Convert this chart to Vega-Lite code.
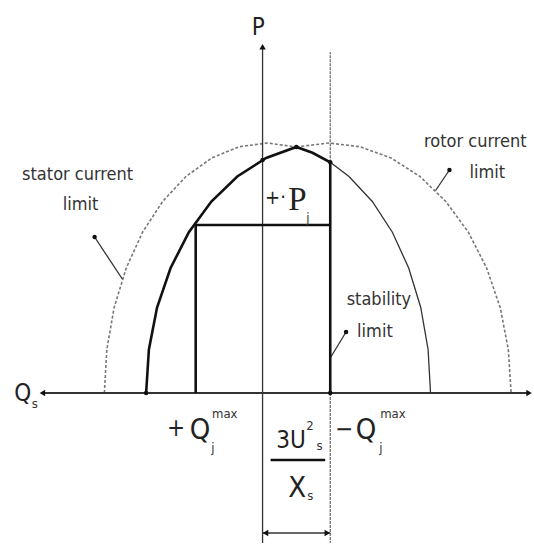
{
  "$schema": "https://vega.github.io/schema/vega-lite/v6.json",
  "width": 534,
  "height": 554,
  "autosize": {"type": "fit", "contains": "padding"},
  "padding": 0,
  "background": "white",
  "config": {"view": {"stroke": null}},
  "datasets": {
    "dotted": [
      {"seg": "statorLeft", "i": 0, "q": 0.970, "p": 0},
      {"seg": "statorLeft", "i": 1, "q": 0.955, "p": 0.174},
      {"seg": "statorLeft", "i": 2, "q": 0.910, "p": 0.342},
      {"seg": "statorLeft", "i": 3, "q": 0.836, "p": 0.5},
      {"seg": "statorLeft", "i": 4, "q": 0.736, "p": 0.643},
      {"seg": "statorLeft", "i": 5, "q": 0.613, "p": 0.766},
      {"seg": "statorLeft", "i": 6, "q": 0.470, "p": 0.866},
      {"seg": "statorLeft", "i": 7, "q": 0.312, "p": 0.940},
      {"seg": "statorLeft", "i": 8, "q": 0.144, "p": 0.985},
      {"seg": "statorLeft", "i": 9, "q": -0.030, "p": 1.0},
      {"seg": "statorLeft", "i": 10, "q": -0.207, "p": 0.984},
      {"seg": "rotorRight", "i": 0, "q": -0.207, "p": 0.984},
      {"seg": "rotorRight", "i": 1, "q": -0.405, "p": 1.0},
      {"seg": "rotorRight", "i": 2, "q": -0.599, "p": 0.985},
      {"seg": "rotorRight", "i": 3, "q": -0.788, "p": 0.940},
      {"seg": "rotorRight", "i": 4, "q": -0.965, "p": 0.866},
      {"seg": "rotorRight", "i": 5, "q": -1.124, "p": 0.766},
      {"seg": "rotorRight", "i": 6, "q": -1.262, "p": 0.643},
      {"seg": "rotorRight", "i": 7, "q": -1.374, "p": 0.5},
      {"seg": "rotorRight", "i": 8, "q": -1.457, "p": 0.342},
      {"seg": "rotorRight", "i": 9, "q": -1.507, "p": 0.174},
      {"seg": "rotorRight", "i": 10, "q": -1.524, "p": 0}
    ],
    "thin": [
      {"seg": "pAxis", "i": 0, "q": 0, "p": -0.6},
      {"seg": "pAxis", "i": 1, "q": 0, "p": 1.39},
      {"seg": "statorRight", "i": 0, "q": -0.415, "p": 0.923},
      {"seg": "statorRight", "i": 1, "q": -0.530, "p": 0.866},
      {"seg": "statorRight", "i": 2, "q": -0.673, "p": 0.766},
      {"seg": "statorRight", "i": 3, "q": -0.796, "p": 0.643},
      {"seg": "statorRight", "i": 4, "q": -0.896, "p": 0.5},
      {"seg": "statorRight", "i": 5, "q": -0.970, "p": 0.342},
      {"seg": "statorRight", "i": 6, "q": -1.015, "p": 0.174},
      {"seg": "statorRight", "i": 7, "q": -1.030, "p": 0},
      {"seg": "dimension", "i": 0, "q": 0, "p": -0.56},
      {"seg": "dimension", "i": 1, "q": -0.415, "p": -0.56},
      {"seg": "leaderStator", "i": 0, "q": 1.030, "p": 0.624},
      {"seg": "leaderStator", "i": 1, "q": 0.86, "p": 0.456},
      {"seg": "leaderRotor", "i": 0, "q": -1.146, "p": 0.892},
      {"seg": "leaderRotor", "i": 1, "q": -1.061, "p": 0.81},
      {"seg": "leaderStability", "i": 0, "q": -0.512, "p": 0.244},
      {"seg": "leaderStability", "i": 1, "q": -0.415, "p": 0.14}
    ],
    "thinDash": [
      {"seg": "stabUpper", "i": 0, "q": -0.415, "p": 0.923},
      {"seg": "stabUpper", "i": 1, "q": -0.415, "p": 1.364},
      {"seg": "stabLower", "i": 0, "q": -0.415, "p": 0},
      {"seg": "stabLower", "i": 1, "q": -0.415, "p": -0.6}
    ],
    "medium": [
      {"seg": "qAxis", "i": 0, "q": 1.348, "p": 0},
      {"seg": "qAxis", "i": 1, "q": -1.634, "p": 0}
    ],
    "bold": [
      {"seg": "boundary", "i": 0, "q": 0.714, "p": 0},
      {"seg": "boundary", "i": 1, "q": 0.697, "p": 0.174},
      {"seg": "boundary", "i": 2, "q": 0.647, "p": 0.342},
      {"seg": "boundary", "i": 3, "q": 0.564, "p": 0.5},
      {"seg": "boundary", "i": 4, "q": 0.452, "p": 0.643},
      {"seg": "boundary", "i": 5, "q": 0.314, "p": 0.766},
      {"seg": "boundary", "i": 6, "q": 0.155, "p": 0.866},
      {"seg": "boundary", "i": 7, "q": -0.022, "p": 0.940},
      {"seg": "boundary", "i": 8, "q": -0.207, "p": 0.984},
      {"seg": "boundary", "i": 9, "q": -0.306, "p": 0.961},
      {"seg": "boundary", "i": 10, "q": -0.415, "p": 0.923},
      {"seg": "boundary", "i": 11, "q": -0.415, "p": 0},
      {"seg": "rectangle", "i": 0, "q": 0.41, "p": 0},
      {"seg": "rectangle", "i": 1, "q": 0.41, "p": 0.672},
      {"seg": "rectangle", "i": 2, "q": -0.415, "p": 0.672},
      {"seg": "fractionBar", "i": 0, "q": -0.049, "p": -0.268},
      {"seg": "fractionBar", "i": 1, "q": -0.384, "p": -0.268}
    ],
    "arrowLeft": [
      {"name": "qAxis", "q": 1.35, "p": 0},
      {"name": "dimension", "q": -0.018, "p": -0.56}
    ],
    "arrowRight": [
      {"name": "qAxis", "q": -1.634, "p": 0},
      {"name": "dimension", "q": -0.397, "p": -0.56}
    ],
    "arrowUp": [
      {"name": "pAxis", "q": 0, "p": 1.385}
    ],
    "dots": [
      {"name": "rotorLeftEnd", "q": 0.714, "p": 0},
      {"name": "intersection", "q": -0.207, "p": 0.984},
      {"name": "stabilityTop", "q": -0.415, "p": 0.923},
      {"name": "pAxisCross", "q": 0, "p": 0.932},
      {"name": "stabilityFoot", "q": -0.415, "p": 0},
      {"name": "leaderStator", "q": 1.030, "p": 0.624},
      {"name": "leaderRotor", "q": -1.146, "p": 0.892},
      {"name": "leaderStability", "q": -0.512, "p": 0.244}
    ],
    "labels": [
      {"txt": "stator current", "q": 1.134, "p": 0.852},
      {"txt": "limit", "q": 1.116, "p": 0.732},
      {"txt": "rotor current", "q": -1.305, "p": 0.984},
      {"txt": "limit", "q": -1.378, "p": 0.86},
      {"txt": "stability", "q": -0.713, "p": 0.352},
      {"txt": "limit", "q": -0.689, "p": 0.224}
    ],
    "axisNames": [
      {"txt": "P", "q": 0.027, "p": 1.432},
      {"txt": "Q", "q": 1.470, "p": -0.032}
    ],
    "mathBig": [
      {"txt": "Q", "q": 0.384, "p": -0.184},
      {"txt": "Q", "q": -0.634, "p": -0.184},
      {"txt": "X", "q": -0.213, "p": -0.416}
    ],
    "mathSans": [
      {"txt": "+", "q": 0.530, "p": -0.17},
      {"txt": "−", "q": -0.5, "p": -0.175},
      {"txt": "3U", "q": -0.174, "p": -0.22}
    ],
    "plusDot": [
      {"txt": "+·", "q": -0.079, "p": 0.755}
    ],
    "serifP": [
      {"txt": "P", "q": -0.213, "p": 0.732}
    ],
    "scripts": [
      {"txt": "max", "q": 0.232, "p": -0.1},
      {"txt": "max", "q": -0.799, "p": -0.1},
      {"txt": "j", "q": 0.305, "p": -0.236},
      {"txt": "j", "q": -0.726, "p": -0.236},
      {"txt": "s", "q": 1.396, "p": -0.06},
      {"txt": "s", "q": -0.35, "p": -0.228},
      {"txt": "s", "q": -0.293, "p": -0.428},
      {"txt": "2", "q": -0.29, "p": -0.148},
      {"txt": "j", "q": -0.278, "p": 0.684}
    ]
  },
  "encoding": {
    "x": {"field": "q", "type": "quantitative", "scale": {"domain": [-1.646, 1.610], "reverse": true, "nice": false, "zero": false}, "axis": null},
    "y": {"field": "p", "type": "quantitative", "scale": {"domain": [-0.644, 1.572], "nice": false, "zero": false}, "axis": null}
  },
  "layer": [
    {
      "data": {"name": "dotted"},
      "mark": {"type": "line", "color": "#777777", "strokeWidth": 1.6, "strokeDash": [3, 2]},
      "encoding": {"detail": {"field": "seg"}, "order": {"field": "i", "type": "quantitative"}}
    },
    {
      "data": {"name": "thinDash"},
      "mark": {"type": "line", "color": "#666666", "strokeWidth": 1.2, "strokeDash": [3, 1]},
      "encoding": {"detail": {"field": "seg"}, "order": {"field": "i", "type": "quantitative"}}
    },
    {
      "data": {"name": "thin"},
      "mark": {"type": "line", "color": "#333333", "strokeWidth": 1.3},
      "encoding": {"detail": {"field": "seg"}, "order": {"field": "i", "type": "quantitative"}}
    },
    {
      "data": {"name": "medium"},
      "mark": {"type": "line", "color": "#333333", "strokeWidth": 2.2},
      "encoding": {"detail": {"field": "seg"}, "order": {"field": "i", "type": "quantitative"}}
    },
    {
      "data": {"name": "bold"},
      "mark": {"type": "line", "color": "#111111", "strokeWidth": 2.6},
      "encoding": {"detail": {"field": "seg"}, "order": {"field": "i", "type": "quantitative"}}
    },
    {
      "data": {"name": "arrowLeft"},
      "mark": {"type": "point", "shape": "triangle-left", "filled": true, "color": "#111111", "size": 40, "opacity": 1}
    },
    {
      "data": {"name": "arrowRight"},
      "mark": {"type": "point", "shape": "triangle-right", "filled": true, "color": "#111111", "size": 40, "opacity": 1}
    },
    {
      "data": {"name": "arrowUp"},
      "mark": {"type": "point", "shape": "triangle-up", "filled": true, "color": "#111111", "size": 40, "opacity": 1}
    },
    {
      "data": {"name": "dots"},
      "mark": {"type": "point", "shape": "circle", "filled": true, "color": "#111111", "size": 20, "opacity": 1}
    },
    {
      "data": {"name": "labels"},
      "mark": {"type": "text", "font": "DejaVu Sans Condensed", "fontSize": 18, "color": "#333333", "align": "center", "baseline": "alphabetic"},
      "encoding": {"text": {"field": "txt"}}
    },
    {
      "data": {"name": "axisNames"},
      "mark": {"type": "text", "font": "DejaVu Sans Condensed", "fontSize": 24, "color": "#222222", "align": "center", "baseline": "alphabetic"},
      "encoding": {"text": {"field": "txt"}}
    },
    {
      "data": {"name": "mathBig"},
      "mark": {"type": "text", "font": "DejaVu Sans Condensed", "fontSize": 29, "color": "#222222", "align": "center", "baseline": "alphabetic"},
      "encoding": {"text": {"field": "txt"}}
    },
    {
      "data": {"name": "mathSans"},
      "mark": {"type": "text", "font": "DejaVu Sans Condensed", "fontSize": 24, "color": "#222222", "align": "center", "baseline": "alphabetic"},
      "encoding": {"text": {"field": "txt"}}
    },
    {
      "data": {"name": "plusDot"},
      "mark": {"type": "text", "font": "DejaVu Sans Condensed", "fontSize": 20, "color": "#222222", "align": "center", "baseline": "alphabetic"},
      "encoding": {"text": {"field": "txt"}}
    },
    {
      "data": {"name": "serifP"},
      "mark": {"type": "text", "font": "Liberation Serif", "fontSize": 33, "color": "#222222", "align": "center", "baseline": "alphabetic"},
      "encoding": {"text": {"field": "txt"}}
    },
    {
      "data": {"name": "scripts"},
      "mark": {"type": "text", "font": "DejaVu Sans Condensed", "fontSize": 13, "color": "#333333", "align": "center", "baseline": "alphabetic"},
      "encoding": {"text": {"field": "txt"}}
    }
  ]
}
